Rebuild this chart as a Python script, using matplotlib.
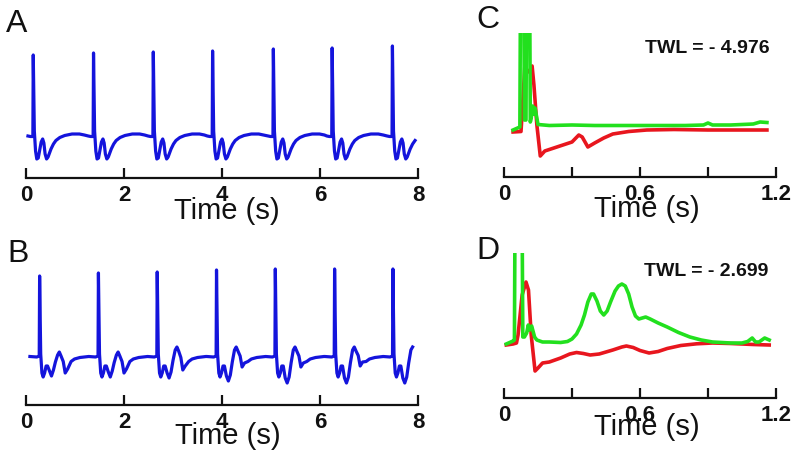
import numpy as np
import matplotlib
matplotlib.use("Agg")
import matplotlib.pyplot as plt

plt.rcParams['font.family'] = ['Liberation Sans', 'DejaVu Sans']

# ---------------- data ----------------
# Panel A: beat onsets (s), spike peak heights (a.u.), beat template
A_beat_times = [0.14, 1.37, 2.59, 3.80, 5.04, 6.24, 7.47]
A_spike_peaks = [8.2, 8.4, 8.5, 8.6, 8.8, 8.9, 9.1]
A_tpl_dt = [-0.10, -0.05, 0.0, 0.008, 0.03, 0.055, 0.08, 0.11, 0.14, 0.17,
            0.20, 0.225, 0.25, 0.28, 0.31, 0.34, 0.37, 0.42, 0.47, 0.55,
            0.65, 0.80, 0.95, 1.05]
A_tpl_v = [0.1, 0.05, 0.05, None, 0.6, -1.4, -2.2, -2.1, -1.3, -0.5,
           -0.2, -0.6, -1.7, -2.2, -2.0, -1.6, -1.2, -0.7, -0.35, -0.05,
           0.15, 0.3, 0.3, 0.2]
A_t_end = 7.95

# Panel B
B_beat_times = [0.27, 1.47, 2.67, 3.88, 5.08, 6.29, 7.48]
B_spike_peaks = [8.1, 8.4, 8.5, 8.7, 8.8, 8.8, 8.8]
B_trough2 = [-1.9, -2.0, -2.1, -2.4, -2.6, -2.6, -2.6]
B_mid = [0.5, 0.5, 1.0, 1.0, 1.0, 1.0, 1.0]
B_trough3 = [-1.6, -1.6, -1.3, -1.0, -1.0, -0.9, -1.0]
B_tpl_dt = [-0.19, -0.05, 0.0, 0.008, 0.03, 0.055, 0.08, 0.11, 0.14, 0.17,
            0.21, 0.25, 0.29, 0.33, 0.375, 0.41, 0.445, 0.49, 0.53, 0.58,
            0.65, 0.72, 0.83, 1.0]
B_tpl_kind = ['0.05', '0.0', '0.1', 'P', '0.3', '-1.6', '-2.0', '-1.6', '-0.9', '-0.9',
              'T2a', 'T2', 'T2b', 'H', 'Ma', 'M', 'Mb', 'H3', 'T3', 'T3b',
              '-0.45', '-0.2', '-0.05', '0.05']
B_t_end = 7.92

# Panel C
C_red_t = [0.04, 0.075, 0.082, 0.092, 0.10, 0.11, 0.124, 0.132, 0.145, 0.16,
           0.18, 0.22, 0.26, 0.30, 0.33, 0.345, 0.37, 0.40, 0.44, 0.48, 0.55,
           0.63, 0.75, 0.9, 1.05, 1.16]
C_red_v = [-0.2, -0.15, 2.5, 6.4, 6.0, 5.8, 6.4, 4.5, 0.5, -2.6,
           -2.1, -1.8, -1.5, -1.2, -0.5, -0.7, -1.7, -1.3, -0.8, -0.4, -0.15,
           0.0, 0.05, 0.0, 0.0, 0.0]
C_green_t = [0.04, 0.06, 0.07, 0.074, 0.086, 0.09, 0.097, 0.101, 0.112, 0.116,
             0.12, 0.127, 0.132, 0.137, 0.15, 0.2, 0.3, 0.4, 0.5, 0.6, 0.7,
             0.8, 0.88, 0.9, 0.92, 0.95, 1.0, 1.05, 1.1, 1.13, 1.16]
C_green_v = [0.0, 0.2, 0.3, 20, 20, 1.0, 1.0, 20, 20, 0.8,
             1.2, 2.4, 1.6, 2.2, 0.55, 0.45, 0.5, 0.45, 0.45, 0.45, 0.45,
             0.45, 0.5, 0.7, 0.5, 0.5, 0.5, 0.55, 0.6, 0.8, 0.75]
C_twl = "TWL = - 4.976"

# Panel D
D_red_t = [0.01, 0.04, 0.055, 0.062, 0.08, 0.097, 0.108, 0.12, 0.137, 0.15,
           0.17, 0.2, 0.25, 0.29, 0.32, 0.35, 0.38, 0.42, 0.48, 0.52, 0.54,
           0.57, 0.60, 0.64, 0.68, 0.72, 0.78, 0.85, 0.92, 1.0, 1.1, 1.17]
D_red_v = [0.0, 0.1, 0.2, 1.0, 5.0, 6.3, 5.5, 1.0, -2.6, -2.3,
           -1.8, -1.7, -1.3, -0.9, -0.75, -0.85, -1.0, -0.9, -0.5, -0.2, -0.1,
           -0.25, -0.55, -0.8, -0.65, -0.35, -0.05, 0.12, 0.2, 0.15, 0.05, 0.0]
D_green_t = [0.01, 0.04, 0.046, 0.05, 0.078, 0.083, 0.09, 0.1, 0.107, 0.113,
             0.122, 0.135, 0.145, 0.17, 0.2, 0.25, 0.28, 0.30, 0.32, 0.34,
             0.355, 0.37, 0.385, 0.395, 0.41, 0.425, 0.44, 0.455, 0.47, 0.49,
             0.505, 0.52, 0.535, 0.55, 0.565, 0.58, 0.595, 0.61, 0.625, 0.645,
             0.68, 0.72, 0.77, 0.82, 0.87, 0.92, 1.0, 1.05, 1.075, 1.095,
             1.11, 1.125, 1.15, 1.17]
D_green_v = [0.1, 0.4, 0.5, 20, 20, 0.8, 0.8, 1.2, 2.0, 1.5,
             1.9, 0.8, 0.5, 0.3, 0.3, 0.25, 0.35, 0.6, 1.1, 2.0,
             3.0, 4.3, 5.1, 5.1, 4.4, 3.4, 3.0, 3.4, 4.3, 5.4,
             5.9, 6.1, 5.9, 5.1, 3.8, 2.9, 2.6, 2.7, 2.8, 2.6,
             2.2, 1.8, 1.25, 0.8, 0.5, 0.3, 0.2, 0.2, 0.35, 0.7,
             0.3, 0.3, 0.7, 0.5]
D_twl = "TWL = - 2.699"

AB_ticks = [0, 2, 4, 6, 8]
AB_ticklabels = ['0', '2', '4', '6', '8']
CD_ticks = [0, 0.3, 0.6, 0.9, 1.2]
CD_ticklabels = ['0', '', '0.6', '', '1.2']

BLUE = '#1414dc'
RED = '#e8161e'
GREEN = '#22e01e'

# ---------------- build traces ----------------
def trace_A():
    ts, vs = [], []
    for t0, pk in zip(A_beat_times, A_spike_peaks):
        for dt, v in zip(A_tpl_dt, A_tpl_v):
            ts.append(t0 + dt)
            vs.append(pk if v is None else v)
    ts, vs = np.array(ts), np.array(vs)
    m = (ts >= 0) & (ts <= A_t_end)
    return ts[m], vs[m]

def trace_B():
    ts, vs = [], []
    for t0, pk, t2, md, t3 in zip(B_beat_times, B_spike_peaks, B_trough2, B_mid, B_trough3):
        lut = {'P': pk, 'T2': t2, 'T2a': t2 + 0.5, 'T2b': t2 + 0.6,
               'H': (t2 + md) / 2 + 0.2, 'Ma': md - 0.3, 'M': md, 'Mb': md - 0.4,
               'H3': (md + t3) / 2 + 0.1, 'T3': t3, 'T3b': t3 + 0.4}
        for dt, k in zip(B_tpl_dt, B_tpl_kind):
            ts.append(t0 + dt)
            vs.append(lut[k] if k in lut else float(k))
    ts, vs = np.array(ts), np.array(vs)
    m = (ts >= 0) & (ts <= B_t_end)
    return ts[m], vs[m]

# ---------------- figure ----------------
W, H = 800, 459
fig = plt.figure(figsize=(W / 100, H / 100), dpi=100)

def add_ax(x0, x1, ytop, ybot):
    return fig.add_axes([x0 / W, 1 - ybot / H, (x1 - x0) / W, (ybot - ytop) / H])

def style(ax, xlim, ticks, labels):
    for s in ['left', 'right', 'top']:
        ax.spines[s].set_visible(False)
    ax.spines['bottom'].set_linewidth(1.6)
    ax.spines['bottom'].set_color('#111111')
    ax.set_xlim(*xlim)
    ax.set_yticks([])
    ax.set_xticks(ticks)
    ax.set_xticklabels(labels, fontsize=16, fontweight='bold')
    ax.tick_params(axis='x', direction='in', length=7, width=1.6, pad=5.0,
                   colors='#111111')
    ax.patch.set_alpha(0)

def ftext(x, y, s, **kw):
    fig.text(x / W, 1 - y / H, s, **kw)

# A
axA = add_ax(26, 418, 40, 178)
axA.set_ylim(-4.1, 9.7)
tA, vA = trace_A()
axA.plot(tA, vA, color=BLUE, lw=2.3, solid_joinstyle='round')
style(axA, (0, 8), AB_ticks, AB_ticklabels)

# B
axB = add_ax(26, 418, 262, 405)
axB.set_ylim(-4.8, 9.5)
tB, vB = trace_B()
axB.plot(tB, vB, color=BLUE, lw=2.3, solid_joinstyle='round')
style(axB, (0, 8), AB_ticks, AB_ticklabels)

# C
axC = add_ax(504, 776, 33, 177)
axC.set_ylim(-4.7, 9.7)
axC.plot(C_red_t, C_red_v, color=RED, lw=2.6, solid_joinstyle='round')
axC.plot(C_green_t, C_green_v, color=GREEN, lw=2.6, solid_joinstyle='round')
style(axC, (0, 1.2), CD_ticks, CD_ticklabels)

# D
axD = add_ax(504, 776, 253, 398)
axD.set_ylim(-5.3, 9.2)
axD.plot(D_red_t, D_red_v, color=RED, lw=2.6, solid_joinstyle='round')
axD.plot(D_green_t, D_green_v, color=GREEN, lw=2.6, solid_joinstyle='round')
style(axD, (0, 1.2), CD_ticks, CD_ticklabels)

# texts
lab_kw = dict(fontsize=21, ha='center', va='baseline', color='#111111')
ftext(227, 219, 'Time (s)', **lab_kw)
ftext(228, 444, 'Time (s)', **lab_kw)
ftext(647, 217, 'Time (s)', **lab_kw)
ftext(647, 435, 'Time (s)', **lab_kw)

pan_kw = dict(fontsize=23, ha='left', va='baseline', color='#111111')
ftext(6, 32, 'A', **pan_kw)
ftext(7, 262, 'B', **pan_kw)
ftext(476, 28, 'C', **pan_kw)
ftext(476, 259, 'D', **pan_kw)

twl_kw = dict(fontsize=14, fontweight='bold', ha='center', va='baseline', color='#111111')
ftext(707, 53, C_twl, **twl_kw)
ftext(706, 276, D_twl, **twl_kw)

fig.savefig('out.png', dpi=100, facecolor='white')
